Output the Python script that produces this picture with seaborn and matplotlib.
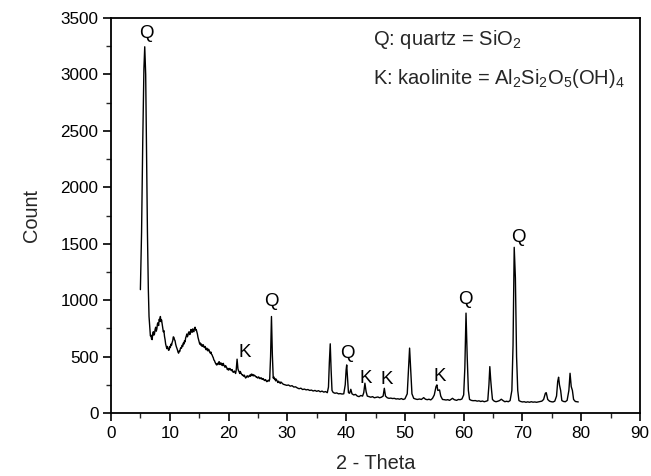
import matplotlib
matplotlib.use("Agg")
import matplotlib.pyplot as plt
import seaborn as sns
import pandas as pd
from matplotlib.ticker import MultipleLocator

# ---- data ----
two_theta = [
    5.00, 5.2, 5.4, 5.6, 5.74, 5.9, 6.05, 6.2, 6.35, 6.47,
    6.6, 6.7, 6.8, 6.9, 7.0, 7.1, 7.2, 7.3, 7.4, 7.5,
    7.6, 7.7, 7.8, 7.9, 8.0, 8.1, 8.2, 8.3, 8.4, 8.5,
    8.6, 8.7, 8.8, 8.9, 9.0, 9.1, 9.2, 9.3, 9.4, 9.5,
    9.6, 9.7, 9.8, 9.9, 10.0, 10.1, 10.2, 10.3, 10.4, 10.5,
    10.6, 10.7, 10.8, 10.9, 11.0, 11.1, 11.2, 11.3, 11.4, 11.5,
    11.6, 11.7, 11.8, 11.9, 12.0, 12.1, 12.2, 12.3, 12.4, 12.5,
    12.6, 12.7, 12.8, 12.9, 13.0, 13.1, 13.2, 13.3, 13.4, 13.5,
    13.6, 13.7, 13.8, 13.9, 14.0, 14.1, 14.2, 14.3, 14.4, 14.5,
    14.6, 14.7, 14.8, 14.9, 15.0, 15.1, 15.2, 15.3, 15.4, 15.5,
    15.6, 15.7, 15.8, 15.9, 16.0, 16.1, 16.2, 16.3, 16.4, 16.5,
    16.6, 16.7, 16.8, 16.9, 17.0, 17.1, 17.2, 17.3, 17.4, 17.5,
    17.6, 17.7, 17.8, 17.9, 18.0, 18.1, 18.2, 18.3, 18.4, 18.5,
    18.6, 18.7, 18.8, 18.9, 19.0, 19.1, 19.2, 19.3, 19.4, 19.5,
    19.6, 19.7, 19.8, 19.9, 20.0, 20.1, 20.2, 20.3, 20.4, 20.5,
    20.6, 20.7, 20.8, 20.9, 21.0, 21.1, 21.2, 21.3, 21.45, 21.6,
    21.7, 21.8, 21.9, 22.0, 22.1, 22.2, 22.3, 22.4, 22.5, 22.6,
    22.7, 22.8, 22.9, 23.0, 23.1, 23.2, 23.3, 23.4, 23.5, 23.6,
    23.7, 23.8, 23.9, 24.0, 24.1, 24.2, 24.3, 24.4, 24.5, 24.6,
    24.7, 24.8, 24.9, 25.0, 25.1, 25.2, 25.3, 25.4, 25.5, 25.6,
    25.7, 25.8, 25.9, 26.0, 26.1, 26.2, 26.3, 26.4, 26.5, 26.6,
    26.7, 26.8, 26.9, 27.0, 27.15, 27.3, 27.45, 27.6, 27.7, 27.8,
    27.9, 28.0, 28.1, 28.2, 28.3, 28.4, 28.5, 28.6, 28.7, 28.8,
    28.9, 29.0, 29.3, 29.6, 29.9, 30.2, 30.5, 30.8, 31.1, 31.4,
    31.7, 32.0, 32.3, 32.6, 32.9, 33.2, 33.5, 33.8, 34.1, 34.4,
    34.7, 35.0, 35.3, 35.6, 35.9, 36.2, 36.5, 36.8, 37.0, 37.15,
    37.3, 37.45, 37.6, 37.8, 38.1, 38.4, 38.7, 39.0, 39.3, 39.6,
    39.85, 40.0, 40.1, 40.25, 40.4, 40.6, 40.8, 41.0, 41.3, 41.6,
    41.9, 42.2, 42.5, 42.8, 43.0, 43.2, 43.4, 43.6, 43.9, 44.2,
    44.5, 44.8, 45.1, 45.4, 45.7, 46.0, 46.3, 46.5, 46.7, 47.0,
    47.3, 47.6, 47.9, 48.2, 48.5, 48.8, 49.1, 49.4, 49.7, 50.0,
    50.4, 50.6, 50.8, 51.0, 51.2, 51.5, 51.8, 52.1, 52.5, 52.8,
    53.2, 53.5, 53.8, 54.1, 54.4, 54.7, 55.0, 55.3, 55.45, 55.6,
    55.9, 56.1, 56.4, 56.7, 57.0, 57.3, 57.6, 58.1, 58.4, 58.8,
    59.1, 59.4, 59.7, 60.0, 60.2, 60.4, 60.6, 60.8, 61.0, 61.3,
    61.6, 62.0, 62.3, 62.6, 62.9, 63.2, 63.5, 63.8, 64.1, 64.3,
    64.45, 64.6, 64.75, 64.9, 65.2, 65.5, 65.8, 66.1, 66.4, 66.7,
    67.0, 67.3, 67.6, 67.9, 68.2, 68.4, 68.6, 68.8, 69.0, 69.2,
    69.4, 69.7, 70.0, 70.3, 70.6, 70.9, 71.2, 71.5, 71.8, 72.1,
    72.4, 72.7, 73.0, 73.3, 73.6, 73.9, 74.05, 74.3, 74.6, 74.9,
    75.2, 75.5, 75.8, 76.0, 76.15, 76.3, 76.5, 76.7, 77.0, 77.3,
    77.6, 77.9, 78.1, 78.3, 78.5, 78.7, 79.0, 79.3, 79.5,
]
count = [
    1093, 1600, 2400, 3050, 3245, 3000, 2300, 1600, 1100, 855,
    760, 684, 690, 655, 650, 700, 720, 690, 700, 740,
    760, 725, 745, 790, 800, 775, 830, 815, 855, 810,
    825, 790, 760, 720, 730, 680, 650, 610, 590, 570,
    590, 575, 555, 560, 590, 580, 610, 600, 625, 640,
    675, 670, 650, 640, 610, 590, 575, 560, 540, 530,
    550, 545, 570, 580, 575, 600, 590, 620, 610, 640,
    630, 665, 680, 700, 675, 690, 715, 720, 695, 705,
    740, 730, 715, 745, 725, 720, 750, 760, 735, 740,
    720, 700, 670, 650, 630, 610, 620, 600, 610, 590,
    600, 605, 585, 580, 590, 570, 560, 575, 560, 550,
    565, 555, 540, 530, 540, 520, 515, 500, 490, 470,
    465, 450, 440, 430, 425, 440, 430, 445, 455, 430,
    440, 445, 425, 435, 420, 440, 425, 415, 405, 420,
    410, 400, 385, 395, 380, 385, 395, 390, 380, 375,
    385, 370, 360, 365, 372, 360, 350, 380, 477, 390,
    375, 365, 350, 368, 355, 345, 338, 340, 330, 325,
    335, 320, 310, 315, 325, 330, 318, 320, 330, 335,
    325, 340, 345, 330, 342, 338, 328, 335, 330, 325,
    318, 320, 312, 310, 320, 315, 305, 305, 312, 310,
    298, 300, 305, 295, 288, 290, 296, 285, 278, 280,
    288, 290, 282, 300, 500, 855, 520, 310, 320, 300,
    305, 285, 300, 290, 278, 270, 282, 275, 268, 262,
    275, 270, 255, 250, 245, 248, 238, 242, 230, 232,
    222, 215, 220, 208, 212, 205, 208, 200, 203, 195,
    200, 192, 198, 188, 194, 185, 190, 180, 230, 450,
    613, 380, 200, 182, 175, 178, 170, 172, 168, 170,
    250, 380, 426, 300, 180, 175, 210, 170, 160, 165,
    150, 145, 155, 150, 180, 264, 190, 150, 145, 140,
    145, 135, 139, 142, 135, 140, 150, 219, 150, 135,
    130, 132, 128, 130, 124, 126, 122, 128, 120, 125,
    170, 380, 575, 380, 170, 130, 124, 120, 124, 120,
    136, 122, 118, 122, 116, 130, 160, 235, 249, 200,
    204, 150, 120, 118, 115, 118, 112, 130, 118, 112,
    120, 118, 124, 160, 400, 885, 500, 200, 120, 112,
    109, 110, 105, 108, 102, 106, 100, 104, 110, 250,
    411, 293, 200, 120, 105, 100, 104, 110, 122, 110,
    100, 104, 100, 110, 200, 600, 1468, 1196, 500, 200,
    110, 102, 98, 100, 95, 99, 95, 100, 96, 98,
    95, 98, 100, 105, 120, 175, 180, 120, 105, 100,
    98, 105, 150, 280, 317, 249, 200, 110, 102, 100,
    112, 200, 352, 234, 200, 120, 102, 100, 98,
]
assert len(two_theta) == len(count)

peak_labels = ["Q", "K", "Q", "Q", "K", "K", "K", "Q", "Q"]
peak_label_x = [6.0, 22.8, 27.3, 40.3, 43.4, 46.9, 55.9, 60.3, 69.3]
peak_label_y = [3363, 539, 989, 530, 308, 299, 322, 1004, 1552]

legend_lines = [r"Q: quartz = SiO$_2$",
                r"K: kaolinite = Al$_2$Si$_2$O$_5$(OH)$_4$"]

x_label = "2 - Theta"
y_label = "Count"

# ---- style ----
sns.set_style("ticks")
plt.rcParams["font.family"] = ["Liberation Sans", "DejaVu Sans"]
plt.rcParams["mathtext.fontset"] = "custom"
plt.rcParams["mathtext.rm"] = "Liberation Sans"
plt.rcParams["mathtext.it"] = "Liberation Sans:italic"
plt.rcParams["mathtext.bf"] = "Liberation Sans:bold"

df = pd.DataFrame({"two_theta": two_theta, "count": count})

fig = plt.figure(figsize=(6.51, 4.76), dpi=100)
ax = fig.add_axes([111 / 651, 1 - 413 / 476, (640 - 111) / 651, (413 - 18) / 476])

sns.lineplot(data=df, x="two_theta", y="count", ax=ax, color="black",
             linewidth=1.0, estimator=None, sort=False)

ax.set_xlim(0, 90)
ax.set_ylim(0, 3500)
ax.xaxis.set_major_locator(MultipleLocator(10))
ax.xaxis.set_minor_locator(MultipleLocator(5))
ax.yaxis.set_major_locator(MultipleLocator(500))
ax.yaxis.set_minor_locator(MultipleLocator(250))
ax.tick_params(axis="both", which="major", direction="out", length=6, width=1.2,
               labelsize=12.3, pad=3, colors="black")
ax.tick_params(axis="both", which="minor", direction="out", length=3.5, width=1.0)
for s in ax.spines.values():
    s.set_linewidth(1.3)
    s.set_color("black")

ax.set_xlabel(x_label, fontsize=14.4, labelpad=10)
ax.set_ylabel(y_label, fontsize=14.4, labelpad=14)

for t, xx, yy in zip(peak_labels, peak_label_x, peak_label_y):
    ax.text(xx, yy, t, ha="center", va="center", fontsize=13.5, color="black")

ax.text(44.5, 3260, legend_lines[0], ha="left", va="baseline", fontsize=14.5)
ax.text(44.5, 2914, legend_lines[1], ha="left", va="baseline", fontsize=14.5)

fig.savefig("out.png", dpi=100)
